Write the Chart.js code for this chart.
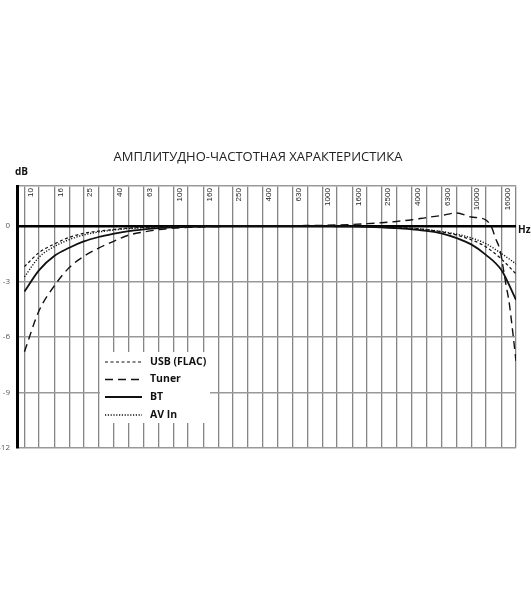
<!DOCTYPE html>
<html>
<head>
<meta charset="utf-8">
<script src="https://cdn.jsdelivr.net/npm/chart.js@4.4.1/dist/chart.umd.min.js"></script>
<style>
    body { margin: 0; background: #fff; }
    canvas { display: block; }
</style>
</head>
<body>
<canvas id="afc-chart" width="531" height="600"></canvas>
<script>
// 1/3 octave frequencies (Hz)
var freqs = [10, 12.5, 16, 20, 25, 31.5, 40, 50, 63, 80, 100, 125, 160, 200, 250, 315, 400, 500, 630, 800,
    1000, 1250, 1600, 2000, 2500, 3150, 4000, 5000, 6300, 8000, 10000, 12500, 16000, 20000];

// labels printed in the top band
var labelFreqs = [10, 16, 25, 40, 63, 100, 160, 250, 400, 630, 1000, 1600, 2500, 4000, 6300, 10000, 16000];
var labelTexts = ['10', '16', '25', '40', '63', '100', '160', '250', '400', '630', '1000', '1600', '2500', '4000', '6300', '10000', '16000'];

var yTicks = [-12, -9, -6, -3, 0];

// dB values
var usbFlac = [-2.2, -1.45, -0.96, -0.62, -0.4, -0.28, -0.19, -0.12, -0.08, -0.05, -0.03, -0.02, -0.01, -0.01, 0, 0, 0, 0, 0, 0,
    0, -0.01, -0.02, -0.04, -0.06, -0.09, -0.13, -0.2, -0.32, -0.5, -0.75, -1.12, -1.8, -2.6];
var bt = [-3.55, -2.4, -1.6, -1.18, -0.84, -0.6, -0.42, -0.28, -0.19, -0.12, -0.08, -0.05, -0.03, -0.02, -0.01, -0.01, -0.01, -0.01, -0.01, -0.01,
    -0.01, -0.02, -0.03, -0.05, -0.08, -0.12, -0.19, -0.27, -0.4, -0.66, -1.0, -1.55, -2.4, -4.0];
var avIn = [-2.75, -1.7, -1.1, -0.74, -0.49, -0.33, -0.22, -0.15, -0.1, -0.06, -0.04, -0.03, -0.02, -0.01, 0, 0, 0, 0, 0, 0,
    0, -0.01, -0.02, -0.04, -0.06, -0.09, -0.13, -0.2, -0.3, -0.45, -0.65, -0.95, -1.5, -2.05];

// tuner has extra points on its steep roll-off
var tunerFreqs = [10, 12.5, 16, 20, 25, 31.5, 40, 50, 63, 80, 100, 125, 160, 200, 250, 315, 400, 500, 630, 800,
    1000, 1250, 1600, 2000, 2500, 3150, 4000, 5000, 6300, 8000, 10000, 12500, 13800, 14500, 15600, 16400, 17100, 18000, 19000, 20000];
var tuner = [-6.8, -4.6, -3.2, -2.25, -1.65, -1.2, -0.82, -0.5, -0.33, -0.2, -0.12, -0.08, -0.05, -0.03, -0.01, 0, 0, 0, 0.01, 0.02,
    0.03, 0.05, 0.08, 0.12, 0.17, 0.24, 0.33, 0.45, 0.56, 0.7, 0.48, 0.33, -0.12, -0.63, -1.3, -2.25, -3.15, -4.15, -5.7, -7.3];

function toPoints(xs, ys) {
    return xs.map(function (f, i) { return { x: f, y: ys[i] }; });
}

var decorPlugin = {
    id: 'decor',
    afterDatasetsDraw: function (chart) {
        var ctx = chart.ctx;
        var xs = chart.scales.x;
        var ys = chart.scales.y;
        var area = chart.chartArea;
        ctx.save();

        // frequency labels, rotated, inside the top band
        ctx.fillStyle = '#222';
        ctx.font = '8px "Liberation Sans"';
        ctx.textAlign = 'right';
        ctx.textBaseline = 'middle';
        labelFreqs.forEach(function (f, i) {
            ctx.save();
            ctx.translate(xs.getPixelForValue(f) + 6, area.top + 2);
            ctx.rotate(-Math.PI / 2);
            ctx.fillText(labelTexts[i], 0, 0);
            ctx.restore();
        });

        // units
        ctx.fillStyle = '#111';
        ctx.font = 'bold 10px "Open Sans"';
        ctx.textAlign = 'left';
        ctx.fillText('dB', 15, 172);
        ctx.fillText('Hz', area.right + 2, ys.getPixelForValue(0) + 4);

        // legend inside the plot
        ctx.fillStyle = '#fff';
        ctx.fillRect(100, 352, 110, 71);
        var rowY = [362, 379.5, 397, 415];
        chart.data.datasets.forEach(function (ds, i) {
            ctx.beginPath();
            ctx.setLineDash(ds.borderDash || []);
            ctx.lineWidth = ds.borderWidth;
            ctx.strokeStyle = ds.borderColor;
            ctx.moveTo(105, rowY[i]);
            ctx.lineTo(142, rowY[i]);
            ctx.stroke();
            ctx.setLineDash([]);
            ctx.fillStyle = '#111';
            ctx.font = 'bold 10.5px "Open Sans"';
            ctx.fillText(ds.label, 150, rowY[i]);
        });
        ctx.restore();
    }
};

var afcCanvas = document.getElementById('afc-chart');

var afcChart = new Chart(afcCanvas, {
    type: 'line',
    data: {
        datasets: [
            {
                label: 'USB (FLAC)',
                data: toPoints(freqs, usbFlac),
                borderColor: '#111',
                borderWidth: 1.2,
                borderDash: [3, 2.5]
            },
            {
                label: 'Tuner',
                data: toPoints(tunerFreqs, tuner),
                borderColor: '#111',
                borderWidth: 1.4,
                borderDash: [8, 5]
            },
            {
                label: 'BT',
                data: toPoints(freqs, bt),
                borderColor: '#111',
                borderWidth: 1.8
            },
            {
                label: 'AV In',
                data: toPoints(freqs, avIn),
                borderColor: '#111',
                borderWidth: 1.4,
                borderDash: [1.2, 1.6]
            }
        ]
    },
    options: {
        responsive: false,
        animation: false,
        layout: {
            padding: { top: 145, right: 15, bottom: 152, left: 0 }
        },
        elements: {
            point: { radius: 0 },
            line: { cubicInterpolationMode: 'monotone', fill: false }
        },
        scales: {
            x: {
                type: 'logarithmic',
                position: 'top',
                min: 8.909,
                max: 20000,
                afterBuildTicks: function (scale) {
                    scale.ticks = freqs.map(function (f) { return { value: f }; });
                },
                afterFit: function (scale) { scale.height = 0; },
                ticks: { display: false },
                grid: { color: '#858585', lineWidth: 1.3, drawTicks: false },
                border: { color: '#999', width: 1.5 }
            },
            y: {
                min: -12,
                max: 2.15,
                afterBuildTicks: function (scale) {
                    scale.ticks = yTicks.map(function (v) { return { value: v }; });
                },
                afterFit: function (scale) { scale.width = 17; },
                ticks: {
                    padding: 7,
                    color: '#555',
                    font: { family: 'Open Sans', size: 8 },
                    callback: function (v) { return v; }
                },
                grid: {
                    drawTicks: false,
                    color: function (c) { return c.tick && c.tick.value === 0 ? '#000' : '#999'; },
                    lineWidth: function (c) { return c.tick && c.tick.value === 0 ? 2.5 : 1.5; }
                },
                border: { color: '#000', width: 3 }
            }
        },
        plugins: {
            legend: { display: false },
            tooltip: { enabled: false },
            title: {
                display: true,
                text: 'АМПЛИТУДНО-ЧАСТОТНАЯ ХАРАКТЕРИСТИКА',
                color: '#222',
                font: { family: 'Open Sans', size: 13, weight: 'normal' },
                padding: { top: 4.5, bottom: 21 }
            }
        }
    },
    plugins: [decorPlugin]
});
</script>
</body>
</html>
